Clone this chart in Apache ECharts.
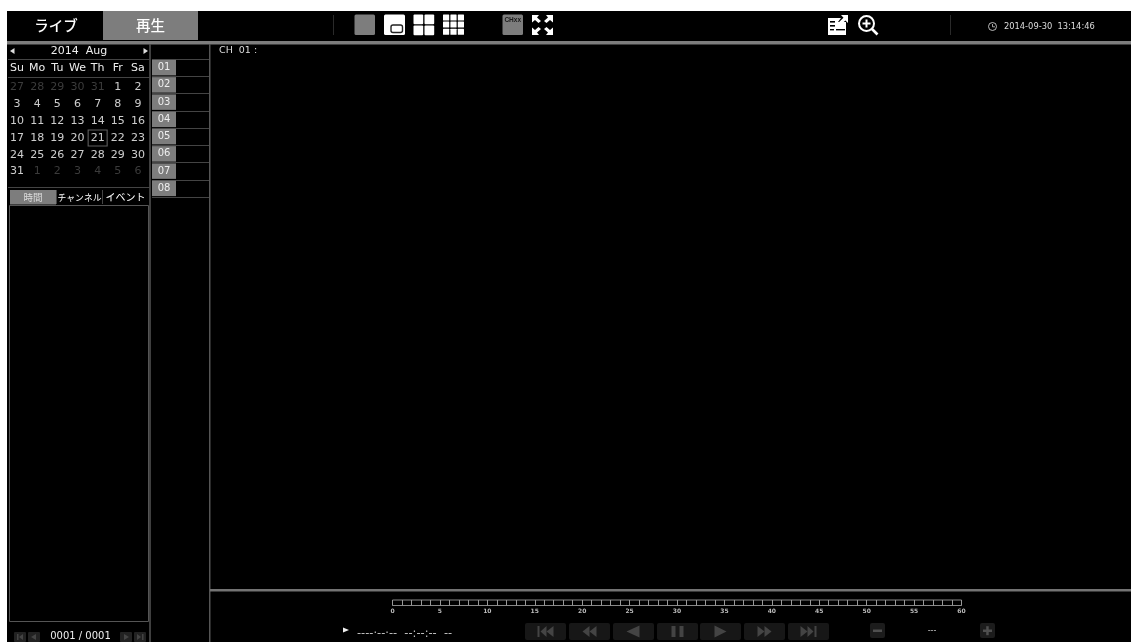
<!DOCTYPE html>
<html><head><meta charset="utf-8">
<style>html,body{margin:0;padding:0;background:#fff;overflow:hidden}#c{width:1131px;height:642px;filter:blur(0.45px)}</style>
<script src="https://cdn.jsdelivr.net/npm/echarts@6/dist/echarts.min.js"></script></head>
<body><div id="c"></div>
<script>
const weekdays = ['Su','Mo','Tu','We','Th','Fr','Sa'];
const week1 = [27,28,29,30,31,1,2];
const week2 = [3,4,5,6,7,8,9];
const week3 = [10,11,12,13,14,15,16];
const week4 = [17,18,19,20,21,22,23];
const week5 = [24,25,26,27,28,29,30];
const week6 = [31,1,2,3,4,5,6];
const selectedDay = 21;
const channels = ['01','02','03','04','05','06','07','08'];
const channelValues = [1,1,1,1,1,1,1,1];
const timelineMax = 60;
const timelineLabelStep = 5;

const weeks = [week1,week2,week3,week4,week5,week6];
const rowNames = weeks.map((_,i)=>'w'+i);
const FONT='"DejaVu Sans",sans-serif', CJK='"Noto Sans CJK JP",sans-serif';
const GREY='#7d7d7d', LINE='#555';
const g=[];
const rect=(x,y,w,h,fill,r,stroke,lw)=>g.push({type:'rect',silent:true,shape:{x,y,width:w,height:h,r:r||0},style:{fill:fill||'transparent',stroke:stroke||null,lineWidth:lw||1}});
const text=(x,y,t,size,fill,align,family,weight)=>g.push({type:'text',silent:true,x,y,style:{text:t,fontSize:size,fontFamily:family||FONT,fontWeight:weight||'normal',fill:fill,align:align||'left',verticalAlign:'middle'}});
const poly=(pts,fill)=>g.push({type:'polygon',silent:true,shape:{points:pts},style:{fill}});
const line=(x1,y1,x2,y2,c,w)=>g.push({type:'line',silent:true,shape:{x1,y1,x2,y2},style:{stroke:c,lineWidth:w||1}});

// page frame
rect(7,11,1124,631,'#000');
// top tabs
rect(103,11,95,29,GREY);
text(56,25,'ライブ',14.5,'#fff','center',CJK,'500');
text(150.5,25,'再生',14.5,'#fff','center',CJK,'500');
rect(7,41,1124,3.5,GREY);
line(333.5,15,333.5,35,'#2a2a2a',1);
line(950.5,15,950.5,35,'#2a2a2a',1);
// layout icons
rect(354.5,14.5,20.5,20.5,GREY,1.5);
rect(384,14.5,21,20.5,'#fff',1.5);
rect(391,25,11.5,7.5,'#fff',2,'#222',1.4);
[[413.5,14.5],[424.5,14.5],[413.5,25.5],[424.5,25.5]].forEach(p=>rect(p[0],p[1],9.7,9.7,'#fff',1));
for(let r=0;r<3;r++)for(let c=0;c<3;c++)rect(443+c*7.4,14.5+r*7.1,6.2,6,'#fff',.5);
rect(502.5,14.5,20.5,20.5,GREY,1.5);
text(512.7,20.5,'CHxx',6.5,'#1a1a1a','center','"Liberation Sans"','bold');
// fullscreen arrows
poly([[532,15],[539,15],[537,17.5],[541,21],[538.5,23],[535,20],[532,22.5]],'#fff');
poly([[553,15],[546,15],[548,17.5],[544,21],[546.5,23],[550,20],[553,22.5]],'#fff');
poly([[532,35],[539,35],[537,32.5],[541,29],[538.5,27],[535,30],[532,27.5]],'#fff');
poly([[553,35],[546,35],[548,32.5],[544,29],[546.5,27],[550,30],[553,27.5]],'#fff');
// right icons
poly([[828,18],[841,18],[838,22],[846,22],[846,35],[828,35]],'#fff');
poly([[841,15],[848,15],[848,23],[845.5,20.5],[838,27],[836,25],[843.5,17.8]],'#fff');
rect(830,21,5,1.6,'#000');rect(830,25,5,1.6,'#000');rect(836,29,9,1.4,'#000');rect(830,29,4,1.4,'#000');
g.push({type:'circle',silent:true,shape:{cx:866.5,cy:23.5,r:7.5},style:{fill:'#000',stroke:'#fff',lineWidth:2}});
line(862.5,23.5,870.5,23.5,'#fff',2);line(866.5,19.5,866.5,27.5,'#fff',2);
line(872,29,877.5,34.5,'#fff',2.6);
// clock
g.push({type:'circle',silent:true,shape:{cx:992.5,cy:26.5,r:4},style:{fill:'#000',stroke:'#ccc',lineWidth:.9}});
line(992.5,24,992.5,26.8,'#ccc',.8);line(992.5,26.8,995,26.8,'#ccc',.8);
text(1004,26.5,'2014-09-30  13:14:46',8.3,'#ddd');
// left panel
line(150,44,150,642,LINE,1.5);
rect(209,44,1.5,598,LINE);
line(8,59.5,150,59.5,'#444',1);line(8,77.5,150,77.5,'#444',1);line(8,187.5,150,187.5,'#444',1);
poly([[10,51],[14.5,48],[14.5,54]],'#ddd');
poly([[148,51],[143.5,48],[143.5,54]],'#ddd');
text(79,51,'2014  Aug',11,'#eee','center');
text(219,51,'CH  01 :',9.5,'#ddd');
// tabs
rect(10,190,46,14.5,GREY);
text(33,197.5,'時間',9.5,'#ddd','center',CJK);
text(79.5,197.5,'チャンネル',8.8,'#fff','center',CJK);
text(125.5,197.5,'イベント',10,'#fff','center',CJK);
line(56.5,190,56.5,204,'#444');line(102.5,190,102.5,204,'#444');
rect(9.5,205.5,139,416,'transparent',0,LINE,1);
// pager
const pb=(x,w)=>rect(x,632,w,10,'#222',1);
pb(14,12);pb(28,12);pb(120,12);pb(134,12);
poly([[23,634],[23,640],[19,637]],'#444');rect(17,634,1.5,6,'#444');
poly([[36,634],[36,640],[31,637]],'#444');
poly([[124,634],[124,640],[129,637]],'#444');
poly([[137,634],[137,640],[141,637]],'#444');rect(142,634,1.5,6,'#444');
text(80.5,636,'0001 / 0001',10,'#eee','center');
// main bottom
rect(210,589,921,2.5,'#737373');
poly([[343,627.5],[343,632.5],[349,630]],'#eee');
text(357,634,'----·--·--  --:--:--  --',11.4,'#bbb');
// playback buttons
const bx=[525,569,613,657,700,744,788];
bx.forEach(x=>rect(x,623,41,17,'#171717',2));
const IC='#444';
const ctr=bx.map(x=>x+20.5);
rect(ctr[0]-8,626,2,11,IC);poly([[ctr[0]-5,631.5],[ctr[0]+1,626],[ctr[0]+1,637]],IC);poly([[ctr[0]+1,631.5],[ctr[0]+8,626],[ctr[0]+8,637]],IC);
poly([[ctr[1]-7,631.5],[ctr[1],626],[ctr[1],637]],IC);poly([[ctr[1],631.5],[ctr[1]+7,626],[ctr[1]+7,637]],IC);
poly([[ctr[2]-7,631.5],[ctr[2]+6,625.5],[ctr[2]+6,637.5]],IC);
rect(ctr[3]-6,626,4,11,IC);rect(ctr[3]+2,626,4,11,IC);
poly([[ctr[4]+6,631.5],[ctr[4]-6,625.5],[ctr[4]-6,637.5]],IC);
poly([[ctr[5]+7,631.5],[ctr[5],626],[ctr[5],637]],IC);poly([[ctr[5],631.5],[ctr[5]-7,626],[ctr[5]-7,637]],IC);
rect(ctr[6]+6,626,2,11,IC);poly([[ctr[6]+5,631.5],[ctr[6]-1,626],[ctr[6]-1,637]],IC);poly([[ctr[6]-1,631.5],[ctr[6]-8,626],[ctr[6]-8,637]],IC);
rect(870,623,15,15,'#1c1c1c',2);rect(873,629.5,9,2.5,'#4f4f4f');
rect(980,623,15,15,'#1c1c1c',2);rect(983,629.5,9,2.5,'#4f4f4f');rect(986.2,626.2,2.5,9,'#4f4f4f');
text(932,630.5,'---',8,'#ccc','center');

// calendar data
const calData=[];
weeks.forEach((wk,r)=>wk.forEach((d,c)=>{
  const muted=(r===0&&d>7)||(r===5&&d<15);
  calData.push({value:[weekdays[c],rowNames[r]],name:String(d),label:{color:muted?'#4a4a4a':'#fff'}});
}));
const selData=[];
weeks.forEach((wk,r)=>wk.forEach((d,c)=>{ if(d===selectedDay&&!(r===0||r===5)) selData.push([weekdays[c],rowNames[r]]); }));

const option={
  animation:false,backgroundColor:'#fff',
  grid:[
    {left:7,top:79,width:141,height:101},
    {left:152,top:59,width:57,height:138},
    {left:392.5,top:600,width:569,height:5.5,show:true,borderColor:'#888',borderWidth:1,backgroundColor:'transparent'}
  ],
  xAxis:[
    {gridIndex:0,type:'category',position:'top',data:weekdays,axisLine:{show:false},axisTick:{show:false},
     axisLabel:{color:'#eee',fontSize:11,fontFamily:FONT,margin:5,interval:0}},
    {gridIndex:1,type:'value',min:0,max:2.375,show:false},
    {gridIndex:2,type:'value',min:0,max:timelineMax,interval:timelineLabelStep,
     axisLine:{show:false},splitLine:{show:false},
     axisTick:{show:true,inside:true,length:5.5,lineStyle:{color:'#999',width:1}},
     minorTick:{show:true,splitNumber:5,length:5.5,lineStyle:{color:'#999',width:1}},
     axisLabel:{color:'#bbb',fontSize:6,fontFamily:FONT,fontWeight:'bold',margin:3,showMinLabel:true,showMaxLabel:true}}
  ],
  yAxis:[
    {gridIndex:0,type:'category',inverse:true,data:rowNames,show:false},
    {gridIndex:1,type:'category',inverse:true,data:channels,axisLine:{show:false},axisTick:{show:false},axisLabel:{show:false},
     splitLine:{show:true,lineStyle:{color:'#444',width:1}}},
    {gridIndex:2,type:'value',min:0,max:1,show:false}
  ],
  series:[
    {type:'scatter',xAxisIndex:0,yAxisIndex:0,symbolSize:0,data:calData,z:5,
     label:{show:true,position:'inside',formatter:p=>p.name,fontSize:11,fontFamily:FONT}},
    {type:'scatter',xAxisIndex:0,yAxisIndex:0,symbol:'rect',symbolSize:[19,16],data:selData,z:4,
     itemStyle:{color:'transparent',borderColor:'#777',borderWidth:1}},
    {type:'bar',xAxisIndex:1,yAxisIndex:1,data:channelValues,barWidth:15.5,
     itemStyle:{color:GREY},
     label:{show:true,position:'inside',formatter:p=>p.name,color:'#eee',fontSize:10,fontFamily:FONT}},
    {type:'line',xAxisIndex:2,yAxisIndex:2,data:[],showSymbol:false}
  ],
  graphic:{elements:g}
};
option.graphic.elements.forEach(e=>{e.z=-1;e.zlevel=0;});
const chart=echarts.init(document.getElementById('c'),null,{renderer:'canvas',width:1131,height:642});
chart.setOption(option);
</script></body></html>
